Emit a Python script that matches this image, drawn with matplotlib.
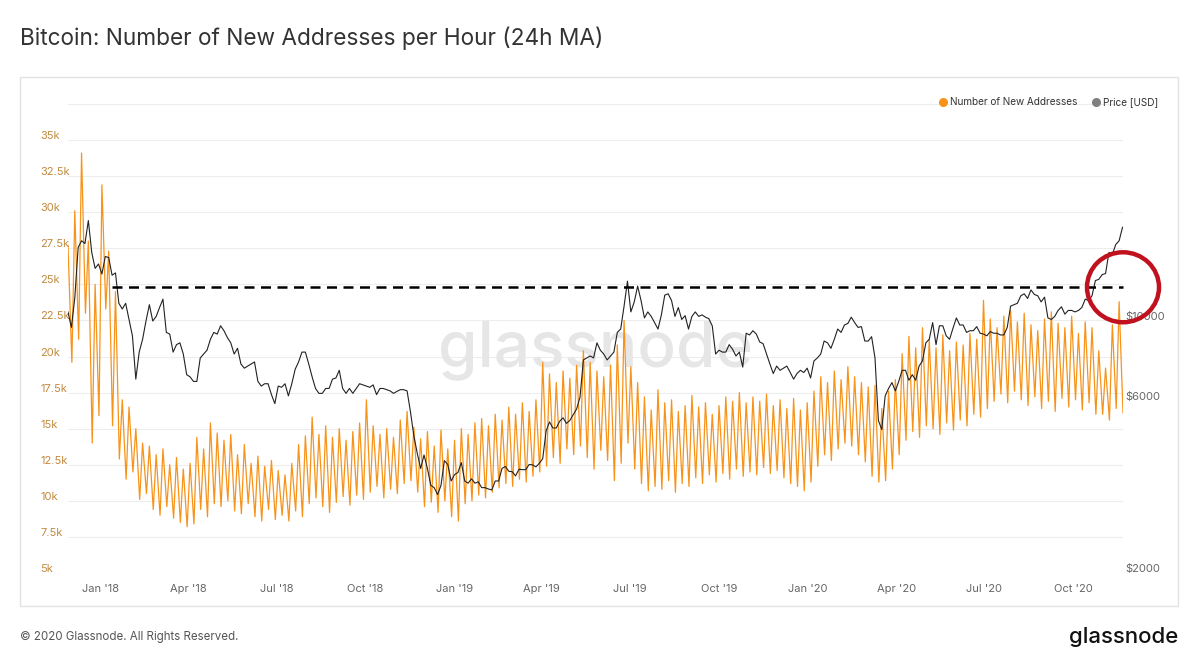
import numpy as np
import pandas as pd
import matplotlib
matplotlib.use('AGG')
import matplotlib.pyplot as plt
import matplotlib.dates as mdates
import matplotlib.transforms as mtransforms
from matplotlib.patches import Ellipse, Rectangle
from matplotlib.lines import Line2D

plt.rcParams['font.family'] = ['Inter', 'DejaVu Sans']

# weekly peak (mid-week) and trough (weekend) of new addresses per hour, in thousands
# one value per week, starting with the week of 27 Nov 2017
addr_high = [
    27.7, 30.1, 34.1, 28.0, 25.0,                                   # Dec 2017
    31.9, 27.3, 24.5, 17.0, 16.5, 15.0, 14.0, 13.8, 13.2,           # Jan-Feb 2018
    13.6, 12.5, 13.0, 12.2, 12.6, 14.4, 13.6, 15.4, 14.7,           # Mar-Apr
    14.2, 14.6, 13.2, 13.9, 12.6, 13.1, 12.4, 12.8,                 # May-Jun
    12.1, 11.8, 12.6, 13.9, 14.5, 15.8, 14.6, 15.2, 14.4,           # Jul-Aug
    15.0, 14.2, 14.8, 15.4, 17.0, 15.2, 14.6, 15.0, 14.4,           # Sep-Oct
    15.6, 16.2, 15.1, 14.3, 14.8, 13.8, 14.9, 13.6, 14.2,           # Nov-Dec
    15.0, 14.6, 15.4, 15.7, 15.2, 16.0, 15.6, 16.5,                 # Jan-Feb 2019
    16.0, 16.8, 16.2, 17.0, 19.6, 18.8, 18.2, 19.0, 18.5,           # Mar-Apr
    19.4, 20.4, 19.6, 19.0, 18.6, 19.4, 20.8, 22.5,                 # May-Jun
    19.3, 18.2, 17.2, 16.3, 17.7, 16.8, 17.0, 16.2, 16.6,           # Jul-Aug
    17.3, 16.5, 16.8, 16.0, 16.6, 17.2, 16.9, 17.5, 16.8,           # Sep-Oct
    17.2, 16.9, 17.4, 16.6, 17.0, 16.4, 17.1, 16.3, 16.8,           # Nov-Dec
    17.6, 18.6, 18.2, 19.0, 18.4, 19.3, 18.6, 18.2,                 # Jan-Feb 2020
    17.9, 18.0, 16.4, 17.6, 18.4, 20.2, 21.4, 20.6, 22.0,           # Mar-Apr
    21.2, 20.6, 21.5, 20.4, 21.0, 20.8, 21.6, 21.2,                 # May-Jun
    23.9, 22.6, 22.0, 22.8, 23.2, 22.4, 23.0, 22.2, 21.8,           # Jul-Aug
    22.6, 23.1, 22.3, 22.0, 22.8, 21.6, 22.4, 22.0, 20.4,           # Sep-Oct
    19.2, 22.2, 23.8,                                               # Nov 2020
]
addr_low = [
    19.6, 21.2, 23.0, 14.0, 15.9,
    23.3, 15.2, 12.9, 11.5, 12.0, 10.1, 10.5, 9.4, 9.0,
    9.6, 8.8, 8.5, 8.2, 8.4, 9.4, 8.9, 9.8, 9.6,
    10.0, 9.3, 9.1, 9.8, 8.9, 8.6, 9.4, 8.7,
    9.0, 8.6, 9.3, 8.9, 9.8, 10.2, 9.6, 9.2, 9.9,
    10.3, 9.7, 10.4, 10.1, 10.6, 11.0, 10.2, 10.8, 10.5,
    11.2, 11.4, 10.6, 9.6, 9.9, 9.2, 10.0, 8.9, 8.6,
    9.8, 10.0, 10.4, 10.2, 10.6, 10.9, 11.2, 11.0,
    11.5, 11.3, 11.7, 12.0, 12.4, 13.0, 12.6, 13.6, 13.2,
    13.8, 13.0, 12.2, 13.5, 12.8, 11.4, 12.6, 14.0,
    12.2, 11.2, 10.7, 11.0, 10.8, 11.4, 10.6, 11.2, 11.0,
    11.6, 11.2, 11.8, 11.3, 11.9, 11.5, 12.2, 11.7, 12.0,
    11.8, 12.3, 11.9, 12.1, 11.6, 11.2, 11.0, 10.7, 11.3,
    12.4, 13.2, 12.8, 13.6, 14.0, 13.8, 13.2, 12.7,
    11.7, 11.3, 11.4, 12.2, 13.2, 14.2, 14.8, 14.4, 15.2,
    15.0, 14.6, 15.4, 14.9, 15.6, 15.2, 16.0, 15.8,
    16.4, 16.9, 17.4, 16.8, 17.6, 17.0, 16.6, 17.2, 16.4,
    16.9, 16.2, 17.1, 16.5, 17.0, 16.3, 16.8, 16.0, 16.0,
    15.6, 16.4, 16.1,
]

# BTC price in USD, two readings per week over the same span
price = [
    10600, 9600, 11600, 16000, 16700, 16400, 19000, 15500, 14000, 14400,
    13500, 15100, 15000, 13400, 13600, 11200, 10800, 11200, 10100, 9100,
    6900, 8200, 8900, 10000, 11100, 10000, 10300, 10900,
    11500, 9300, 9200, 8200, 8600, 8700, 8100, 7100,
    7000, 6800, 6800, 7900, 8100, 8300, 8900, 9300, 9200, 9700,
    9400, 9000, 8700, 8100, 8400, 7600, 7400, 7500,
    7600, 7700, 6800, 6600, 6700, 6700, 6250, 5900,
    6600, 6550, 6700, 6200, 6700, 7350, 7700, 8200, 8200, 7600,
    7000, 6500, 6300, 6300, 6500, 6500, 6900, 6950,
    7300, 6500, 6300, 6500, 6300, 6500, 6700, 6650,
    6600, 6550, 6650, 6250, 6500, 6500, 6450, 6400, 6300, 6380,
    6450, 6450, 6400, 5600, 4800, 4300, 3900, 4250,
    3900, 3500, 3450, 3300, 3500, 4100, 4000, 3600, 3750, 3800,
    4050, 3600, 3550, 3650, 3550, 3580, 3450, 3450,
    3420, 3400, 3600, 3600, 3900, 3950, 3830, 3820,
    3720, 3880, 3870, 3870, 4000, 3990, 3940, 4030,
    4150, 4950, 5250, 5050, 5050, 5270, 5390, 5200, 5300, 5500,
    5700, 6150, 7800, 7900, 8000, 7900, 8700, 8300,
    8100, 7800, 8000, 8200, 9300, 9500, 11000, 12900,
    10600, 11300, 12500, 11400, 10200, 10600, 10300, 9900, 9500, 10400,
    11800, 11900, 11400, 10300, 10900, 10100, 10350, 9500,
    10300, 10600, 10300, 10400, 10250, 10150, 9700, 8100,
    8300, 8200, 8200, 8600, 8350, 8000, 8200, 7450, 9250, 9150,
    9400, 9200, 8750, 8650, 8100, 7600, 7150, 7500,
    7300, 7400, 7500, 7200, 6900, 7150, 7300, 7200, 7400, 6950,
    7750, 7900, 8100, 8800, 8700, 8400, 8900, 9500,
    9300, 9750, 9850, 10250, 9900, 9600, 9650, 8800,
    8800, 9050, 7900, 5300, 5000, 6200, 6500, 6750, 6400, 6800,
    7300, 7300, 6850, 7100, 6850, 7500, 7750, 8700,
    8900, 9900, 8600, 9700, 9700, 9100, 8900, 9550,
    10200, 9750, 9750, 9300, 9400, 9400, 9650, 9250,
    9200, 9100, 9350, 9250, 9250, 9150, 9150, 9600, 11000, 11100,
    11200, 11750, 11900, 11550, 12200, 11850, 11750, 11300,
    11650, 10200, 10100, 10300, 10700, 10950, 10450, 10700, 10700, 10600,
    10700, 10900, 11500, 11400, 11750, 12950, 13050, 13450,
    13550, 15500, 15300, 16300, 16700, 18200,
]

level = 24800          # dashed reference level (addresses)
level_start = '2018-01-12'

ORANGE = '#f7931a'

weeks = pd.date_range('2017-11-27', periods=len(addr_high), freq='7D')
addr_dates = np.empty(2 * len(weeks), dtype='datetime64[ns]')
addr_dates[0::2] = (weeks + pd.Timedelta(days=1)).values
addr_dates[1::2] = (weeks + pd.Timedelta(days=5)).values
addr_vals = np.empty(2 * len(weeks))
addr_vals[0::2] = np.array(addr_high) * 1000
addr_vals[1::2] = np.array(addr_low) * 1000
price_dates = pd.date_range('2017-11-28', periods=len(price), freq='84h')

W, H = 1200, 671
fig = plt.figure(figsize=(12, 6.71), dpi=100)
fig.set_facecolor('white')

# outer card
fig.add_artist(Rectangle((20 / W, 1 - 606 / H), 1158 / W, 529 / H, transform=fig.transFigure,
                         fill=False, edgecolor='#e2e2e2', lw=1))

ax = fig.add_axes([68 / W, 1 - 573 / H, 1055 / W, 469 / H])
ax2 = ax.twinx()

x0 = pd.Timestamp('2017-11-28')
x1 = pd.Timestamp(addr_dates[-1])

# left axis: addresses
ax.plot(addr_dates, addr_vals, color=ORANGE, lw=0.9, zorder=3)
ax.set_ylim(5000, 37500)
ax.set_xlim(x0, x1)
yt = np.arange(5000, 37501, 2500)
for v in yt:
    ax.axhline(v, color='#ededed', lw=0.8, zorder=0)
ax.set_yticks(yt[:-1])
ax.set_yticklabels([('%g' % (v / 1000)) + 'k' for v in yt[:-1]])
ax.tick_params(axis='y', length=0, pad=20, labelsize=8, labelcolor='#c28a3f')
for lab in ax.get_yticklabels():
    lab.set_horizontalalignment('left')
    lab.set_transform(lab.get_transform() + mtransforms.ScaledTranslation(0, 5 / 100, fig.dpi_scale_trans))

xt = pd.date_range('2018-01-01', '2020-10-01', freq='QS')
ax.set_xticks(xt)
ax.set_xticklabels([d.strftime("%b '%y") for d in xt])
ax.tick_params(axis='x', length=0, pad=8, labelsize=8, labelcolor='#666666')
for s in ax.spines.values():
    s.set_visible(False)

# watermark
ax.text(0.5, 0.475, 'glassnode', transform=ax.transAxes, ha='center', va='center',
        fontsize=46, color='#e6e6e6', fontweight='medium', zorder=1)

# right axis: price (log)
ax2.plot(price_dates, price, color='#222222', lw=0.8, zorder=3)
ax2.set_yscale('log')
ax2.set_ylim(2000, 40000)
ax2.set_xlim(x0, x1)
ax2.set_yticks([2000, 6000, 10000])
ax2.set_yticklabels(['$2000', '$6000', '$10000'])
ax2.yaxis.set_minor_locator(matplotlib.ticker.NullLocator())
ax2.tick_params(axis='y', length=0, pad=2, labelsize=8, labelcolor='#666666')
for lab in ax2.get_yticklabels():
    lab.set_transform(lab.get_transform() + mtransforms.ScaledTranslation(0, 5 / 100, fig.dpi_scale_trans))
for s in ax2.spines.values():
    s.set_visible(False)

# dashed level, drawn above the price line
ax2.plot([pd.Timestamp(level_start), x1], [level, level], transform=ax.transData,
         color='black', lw=1.8, linestyle=(0, (4, 2.6)), zorder=5, clip_on=False)

# red circle around the breakout
cx, cy = ax.transData.transform((mdates.date2num(x1), level))
fig.add_artist(Ellipse((cx, cy), 72, 70, transform=mtransforms.IdentityTransform(),
                       fill=False, edgecolor='#c0111f', lw=3.2, zorder=10))

# legend
handles = [Line2D([], [], marker='o', linestyle='', color=ORANGE, markersize=5.5),
           Line2D([], [], marker='o', linestyle='', color='#808080', markersize=5.5)]
fig.legend(handles, ['Number of New Addresses', 'Price [USD]'], ncol=2, frameon=False,
           loc='center right', bbox_to_anchor=(1158 / W, 1 - 102 / H), fontsize=7.2,
           handlelength=0.8, handletextpad=0.3, columnspacing=1.4, borderpad=0, borderaxespad=0,
           labelcolor='#333333')

# texts
fig.text(20 / W, 1 - 38 / H, 'Bitcoin: Number of New Addresses per Hour (24h MA)',
         fontsize=16.3, color='#333333', va='center', ha='left')
fig.text(20 / W, 1 - 637 / H, '\u00a9 2020 Glassnode. All Rights Reserved.',
         fontsize=8.3, color='#555555', va='center', ha='left')
fig.text(1178 / W, 1 - 637 / H, 'glassnode', fontsize=16, color='#111111',
         va='center', ha='right', fontweight='medium')

fig.savefig('out.png', dpi=100, facecolor='white')
